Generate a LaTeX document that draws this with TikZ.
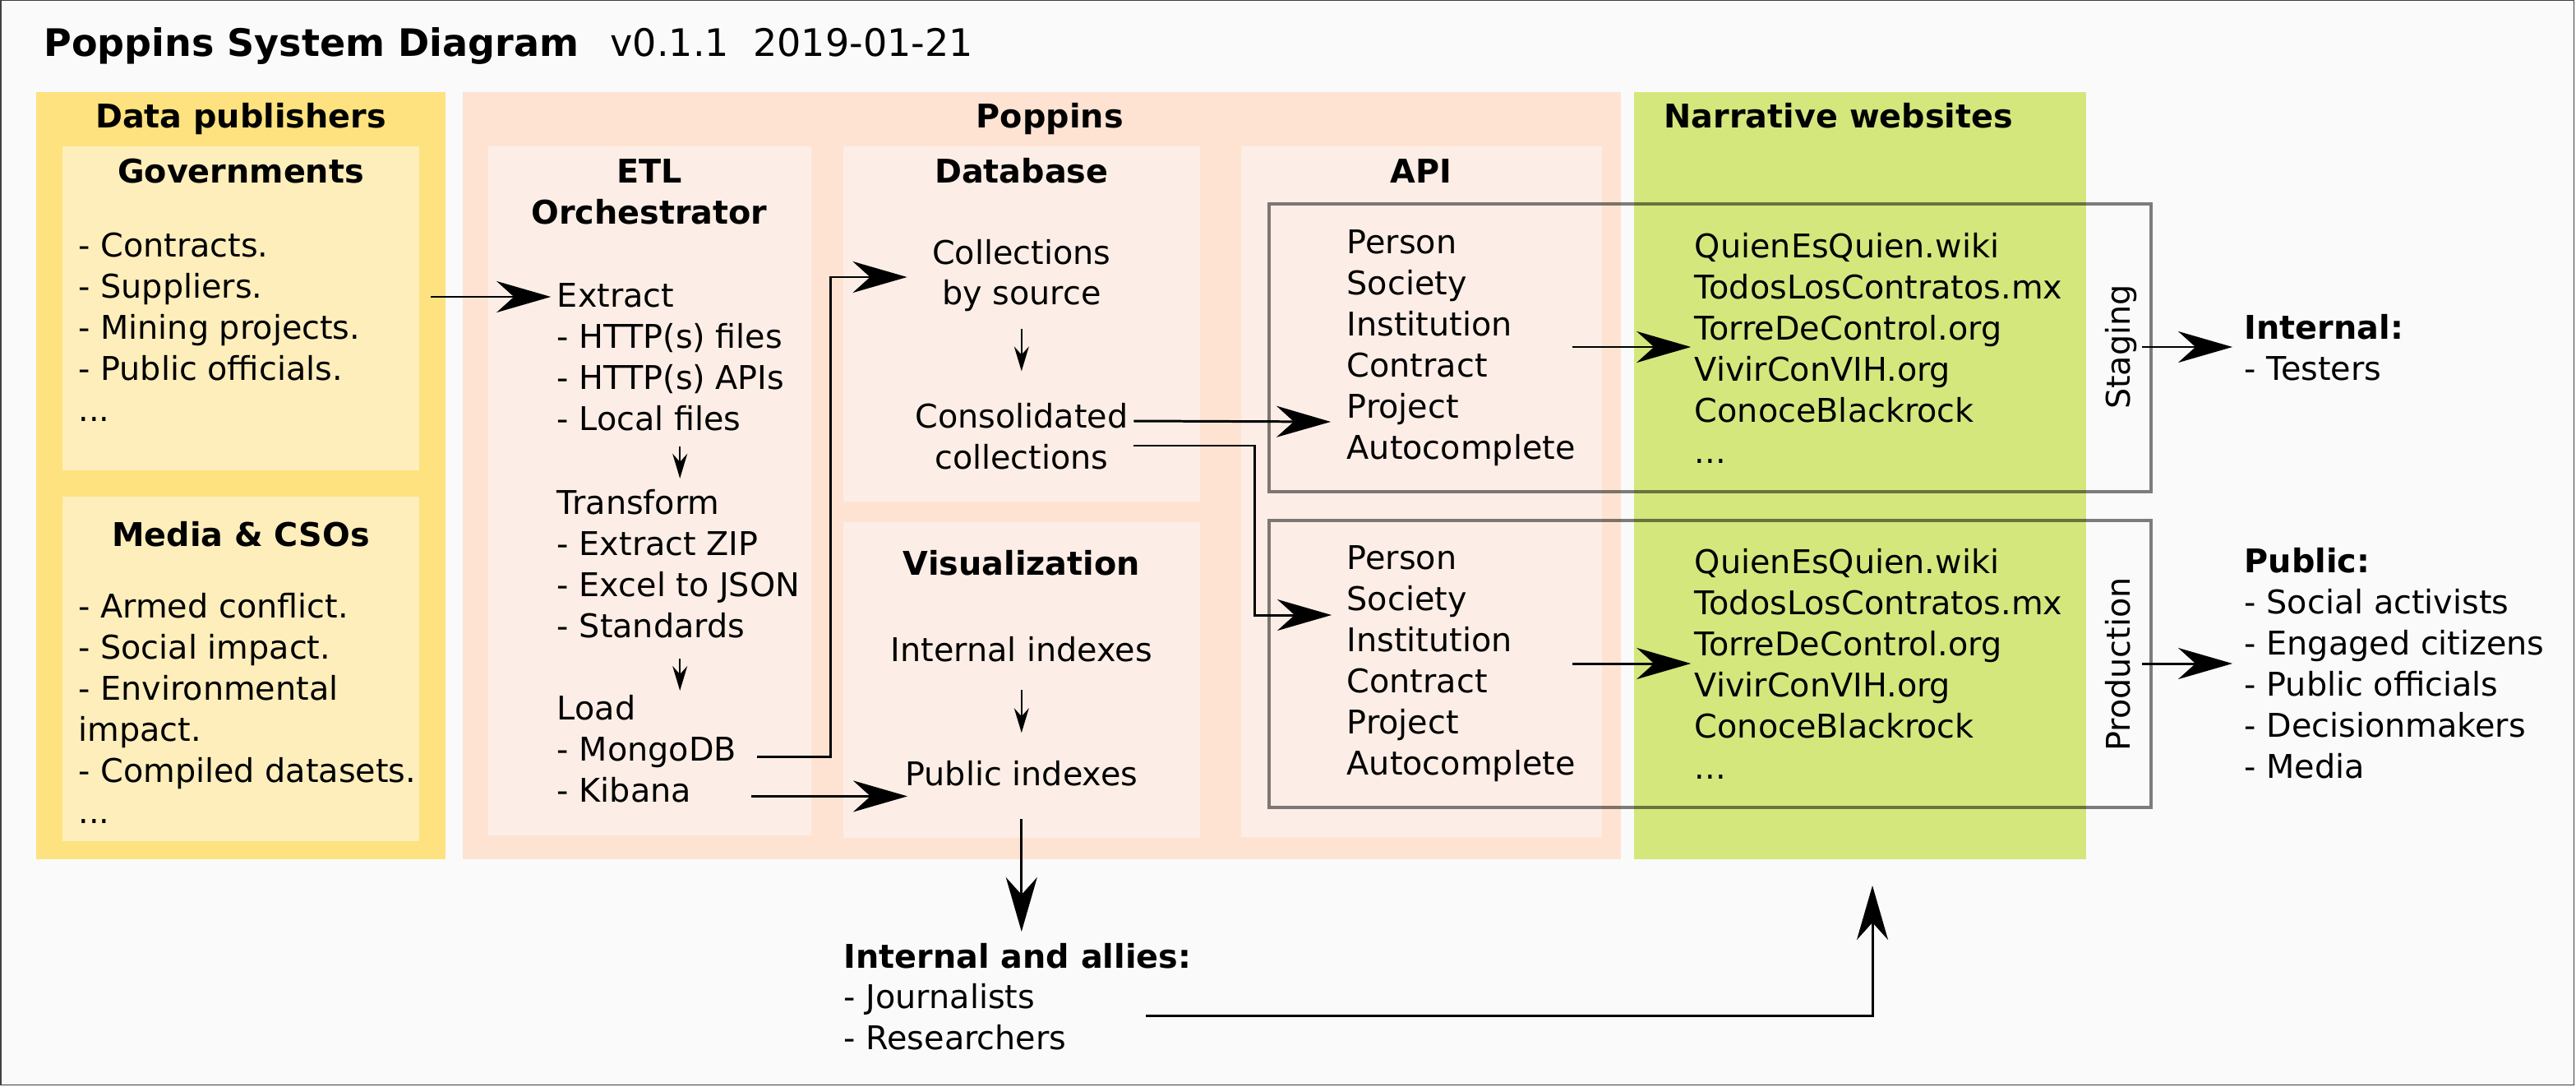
\documentclass[tikz,border=0pt]{standalone}
\usepackage{fontspec}
\setmainfont{DejaVu Sans}
\usetikzlibrary{arrows.meta,calc}

\definecolor{pubout}{HTML}{FDE27F}
\definecolor{pubin}{HTML}{FDEEBB}
\definecolor{popout}{HTML}{FEE3D3}
\definecolor{popin}{HTML}{FCEEE6}
\definecolor{webfill}{HTML}{D4E77D}
\definecolor{paper}{HTML}{FAFAFA}

\newcommand{\moredots}{.{}.{}.}

\tikzset{
  txt/.style={anchor=base west, inner sep=0pt},
  ctxt/.style={anchor=base, inner sep=0pt},
  head/.style={font=\fontsize{11.3}{14.1}\selectfont\bfseries},
  bigarrow/.style={line width=0.85pt, -{Stealth[length=6.6mm,width=3.8mm,inset=2.1mm]}},
  smallarrow/.style={line width=0.5pt, -{Stealth[length=3mm,width=1.8mm,inset=1mm]}},
  envbox/.style={draw=black, draw opacity=0.5, line width=1pt},
}

\begin{document}
\begin{tikzpicture}[x=0.2mm, y=-0.2mm, font=\fontsize{11.3}{14.1}\selectfont]
  % sheet
  \useasboundingbox (0,0) rectangle (1567,660.5);
  \fill[paper] (0,0) rectangle (1567,660.5);
  \draw[black!75, line width=0.4pt] (0.4,0.4) rectangle (1565.8,659.8);

  % zones
  \fill[pubout] (22,56) rectangle (271,522.5);
  \fill[pubin] (38,89) rectangle (255,286);
  \fill[pubin] (38,302) rectangle (255,511.5);
  \fill[popout] (281.5,56) rectangle (986,522.5);
  \fill[popin] (297,89) rectangle (493.5,508);
  \fill[popin] (513,89) rectangle (730,305);
  \fill[popin] (513,317.5) rectangle (730,509.5);
  \fill[popin] (755,89) rectangle (974.5,509);
  \fill[webfill] (994,56) rectangle (1269,522.5);
  \draw[envbox] (772,124) rectangle (1308.5,299);
  \draw[envbox] (772,316.5) rectangle (1308.5,491);

  % title
  \node[txt, font=\fontsize{13.1}{16}\selectfont\bfseries] (title) at (26.3,34.4) {Poppins System Diagram};
  \node[txt, font=\fontsize{13.1}{16}\selectfont] (version) at (371,34.4) {v0.1.1\ \ 2019-01-21};

  % headings
  \node[ctxt, head] (pubtitle) at (146.5,77.8) {Data publishers};
  \node[ctxt, head] (gov) at (146.5,111.3) {Governments};
  \node[ctxt, head] (media) at (146.5,332) {Media \& CSOs};
  \node[ctxt, head] (poptitle) at (638.6,77.8) {Poppins};
  \node[ctxt, head] (etl) at (395,111) {ETL};
  \node[ctxt, head] (orch) at (395,136) {Orchestrator};
  \node[ctxt, head] (db) at (621.4,111.3) {Database};
  \node[ctxt, head] (vis) at (621.4,349.5) {Visualization};
  \node[ctxt, head] (api) at (864.5,111.3) {API};
  \node[txt, head] (webtitle) at (1012,77.8) {Narrative websites};

  % data publishers
  \foreach \t [count=\i from 0] in {- Contracts., - Suppliers., - Mining projects., - Public officials., \moredots}
    \node[txt] (gov-\i) at (47.4,156+25*\i) {\t};
  \foreach \t [count=\i from 0] in {- Armed conflict., - Social impact., - Environmental, impact., - Compiled datasets., \moredots}
    \node[txt] (media-\i) at (47.4,375.8+25*\i) {\t};

  % ETL
  \foreach \t [count=\i from 0] in {Extract, - HTTP(s) files, - HTTP(s) APIs, - Local files}
    \node[txt] (extract-\i) at (338.6,186.6+25*\i) {\t};
  \foreach \t [count=\i from 0] in {Transform, - Extract ZIP, - Excel to JSON, - Standards}
    \node[txt] (transform-\i) at (338.6,312.6+25*\i) {\t};
  \foreach \t [count=\i from 0] in {Load, - MongoDB, - Kibana}
    \node[txt] (load-\i) at (338.6,437.6+25*\i) {\t};
  \draw[smallarrow] (extract-3.base west) ++(75,10.1) -- ++(0,19.2);
  \draw[smallarrow] (transform-3.base west) ++(75,12.8) -- ++(0,19.6);

  % database and visualization
  \node[ctxt] (coll-0) at (621.4,160.5) {Collections};
  \node[ctxt] (coll-1) at (621.4,185) {by source};
  \node[ctxt] (cons-0) at (621.4,260) {Consolidated};
  \node[ctxt] (cons-1) at (621.4,285) {collections};
  \draw[smallarrow] (coll-1.base) ++(0,15) -- ++(0,25.7);
  \node[ctxt] (intidx) at (621.4,402.3) {Internal indexes};
  \node[ctxt] (pubidx) at (621.4,477.5) {Public indexes};
  \draw[smallarrow] (intidx.base) ++(0,17.3) -- ++(0,26);

  % API
  \foreach \t [count=\i from 0] in {Person, Society, Institution, Contract, Project, Autocomplete}{
    \node[txt] (stg-api-\i) at (819,154.3+25*\i) {\t};
    \node[txt] (prd-api-\i) at (819,346+25*\i) {\t};
  }

  % websites
  \foreach \t [count=\i from 0] in {QuienEsQuien.wiki, TodosLosContratos.mx, TorreDeControl.org, VivirConVIH.org, ConoceBlackrock, \moredots}{
    \node[txt] (stg-web-\i) at (1030.6,156.7+25*\i) {\t};
    \node[txt] (prd-web-\i) at (1030.6,348.5+25*\i) {\t};
  }
  \node[anchor=base, inner sep=0pt, rotate=90] (staging) at (1295.5,211) {Staging};
  \node[anchor=base, inner sep=0pt, rotate=90] (production) at (1295.5,404) {Production};

  % audiences
  \node[txt, head] (internal) at (1365,206) {Internal:};
  \node[txt] (testers) at (1365,231) {- Testers};
  \node[txt, head] (public) at (1365,348) {Public:};
  \foreach \t [count=\i from 0] in {- Social activists, - Engaged citizens, - Public officials, - Decisionmakers, - Media}
    \node[txt] (pub-\i) at (1365,373+25*\i) {\t};
  \node[txt, head] (allies) at (513,588.8) {Internal and allies:};
  \node[txt] (journ) at (513,613.3) {- Journalists};
  \node[txt] (resrch) at (513,638.3) {- Researchers};

  % flows
  \coordinate (govout) at (262,180.5);
  \draw[bigarrow, shorten >=0.7mm] (govout) -- (govout -| extract-0.west);
  \draw[bigarrow] ($(load-1.base east)+(12.4,-2.4)$) -| (505,168.5) -- ($(coll-0.base west)+(-15,8)$);
  \draw[bigarrow] ($(load-2.base west)+(118.4,-3.4)$) -- ++(95,0);
  \draw[bigarrow] ($(cons-0.base east)+(3.2,-4)$) -- ($(stg-api-4.base west)+(-9.5,2.2)$);
  \draw[bigarrow] ($(cons-0.base east)+(3.2,11)$) -| (763.4,374) -- ($(prd-api-1.base west)+(-9,3)$);
  \draw[bigarrow] ($(stg-web-2.base west)+(-74,4.3)$) -- ++(72,0);
  \draw[bigarrow] ($(prd-web-2.base west)+(-74,5)$) -- ++(72,0);
  \draw[bigarrow] ($(internal.base west)+(-62,5)$) -- ++(55,0);
  \draw[bigarrow] ($(pub-1.base west)+(-62,5.5)$) -- ++(55,0);
  \draw[bigarrow] ($(pubidx.base)+(0,20.5)$) -- ++(0,68.5);
  \draw[bigarrow] ($(journ.base west)+(184,4.2)$) -| (1139,538.5);
\end{tikzpicture}
\end{document}
